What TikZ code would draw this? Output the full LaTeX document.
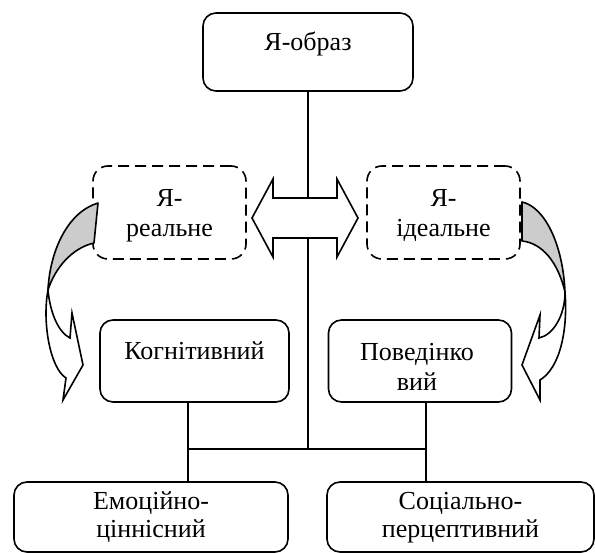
\documentclass[tikz,border=0pt]{standalone}
\usepackage{fontspec}
\setmainfont{Liberation Serif}
\begin{document}
\begin{tikzpicture}[x=1pt,y=-1pt,line width=1.6pt,
  rbox/.style={draw,rounded corners=13pt,fill=white,inner sep=0pt},
  dbox/.style={draw,rounded corners=15pt,dash pattern=on 11pt off 6pt,inner sep=0pt},
  txt/.style={anchor=base,inner sep=0pt,font=\fontsize{26}{30}\selectfont},
  backband/.style={draw,fill=black!20,line join=round},
  frontband/.style={draw,fill=white,line join=miter}]
\useasboundingbox (0,0) rectangle (595,553);

% boxes
\node[rbox,minimum width=210pt,minimum height=78pt] (top) at (308,52) {};
\node[dbox,minimum width=153pt,minimum height=93pt] (dl) at (169.5,212.5) {};
\node[dbox,minimum width=153pt,minimum height=93pt] (dr) at (443.5,212.5) {};
\node[rbox,minimum width=189pt,minimum height=82pt] (kog) at (194.5,361) {};
\node[rbox,minimum width=183pt,minimum height=82pt] (pov) at (420,361) {};
\node[rbox,minimum width=274pt,minimum height=70pt] (emo) at (151,517) {};
\node[rbox,minimum width=267pt,minimum height=70pt] (soc) at (460.5,517) {};

% junctions
\coordinate (jm) at (308,449);
\coordinate (j1) at (188,449);
\coordinate (j2) at (426,449);

% connectors
\draw (top.south) -- (top.south |- jm);
\draw (j1) -- (j2);
\draw (kog.south -| j1) -- (emo.north -| j1);
\draw (pov.south -| j2) -- (soc.north -| j2);

% double arrow
\draw[fill=white,line join=miter] (252,218) -- (273,179) -- (273,198) -- (337,198) -- (337,179)
  -- (358,218) -- (337,257) -- (337,238) -- (273,238) -- (273,257) -- cycle;

% left curved arrow
\draw[backband] (98,203) .. controls (68,212) and (50,250) .. (48,290)
  .. controls (55,268) and (72,248) .. (94,243) -- cycle;
\draw[frontband] (48,290) .. controls (50,312) and (58,332) .. (70,338) -- (72,313) -- (83,365)
  -- (63,400) -- (66,378) .. controls (50,368) and (42,322) .. (48,290) -- cycle;

% right curved arrow
\draw[backband] (522,202) .. controls (545,207) and (563,245) .. (565,292)
  .. controls (558,262) and (542,243) .. (522,241) -- cycle;
\draw[frontband] (565,292) .. controls (565,316) and (553,335) .. (539,338) -- (540,315) -- (522,365)
  -- (540,400) -- (540,380) .. controls (560,368) and (568,330) .. (565,292) -- cycle;

% texts
\node[txt] (t0) at (308,51) {Я-образ};
\node[txt] (t1) at (169.5,207) {Я-};
\node[txt] (t2) at (169.5,237) {реальне};
\node[txt] (t3) at (443.5,207) {Я-};
\node[txt] (t4) at (443.5,237) {ідеальне};
\node[txt] (t5) at (194.5,360) {Когнітивний};
\node[txt] (t6) at (417,361) {Поведінко};
\node[txt] (t7) at (417,391) {вий};
\node[txt] (t8) at (151,509) {Емоційно-};
\node[txt] (t9) at (151,537) {ціннісний};
\node[txt] (t10) at (460.5,509) {Соціально-};
\node[txt] (t11) at (460.5,537) {перцептивний};
\end{tikzpicture}
\end{document}
